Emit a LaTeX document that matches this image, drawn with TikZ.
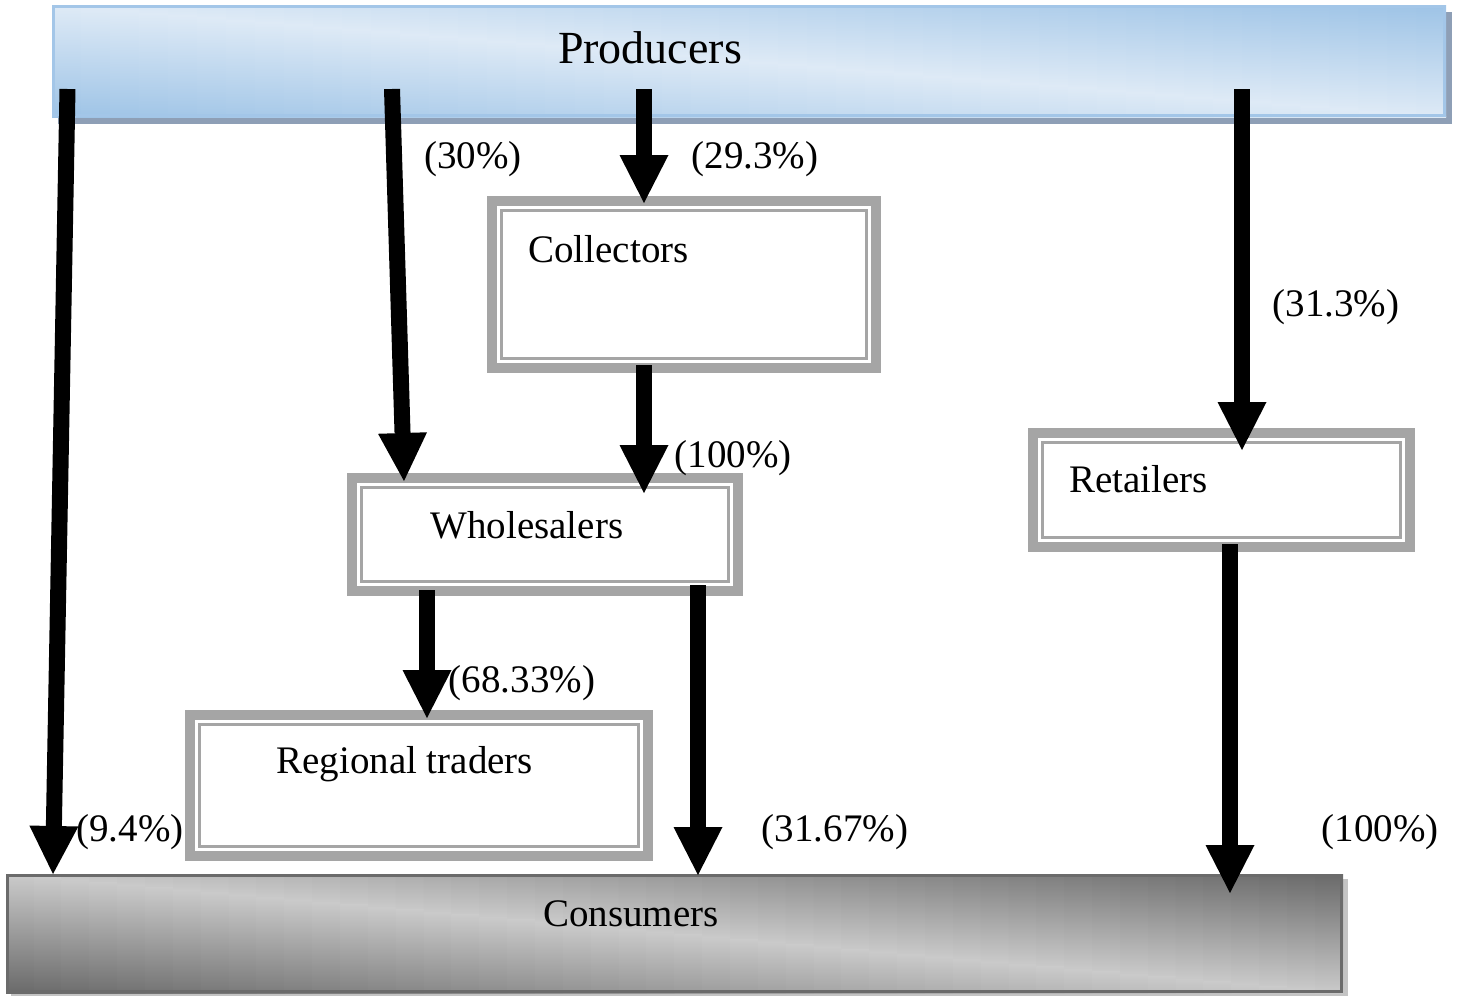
\documentclass[tikz,border=0pt]{standalone}
\usepackage{fontspec}
\setmainfont{Liberation Serif}
\usetikzlibrary{arrows.meta}
\definecolor{boxgray}{HTML}{A5A5A5}
\definecolor{blueL}{HTML}{DEEAF6}
\definecolor{blueD}{HTML}{9DC3E6}
\definecolor{blueEdge}{HTML}{A3C6E8}
\definecolor{blueShadow}{HTML}{8E9FB6}
\definecolor{grayL}{HTML}{CACACA}
\definecolor{grayD}{HTML}{696969}
\definecolor{grayEdge}{HTML}{6B6B6B}
\definecolor{grayShadow}{HTML}{C4C4C4}
\newcommand\innerframe[1]{\draw[boxgray,line width=1.5pt] ([shift={(9.5,9.5)}]#1.north west) rectangle ([shift={(-9.5,-9.5)}]#1.south east);}
% diagonal gradient by strips: #1 x0, #2 width, #3 y0, #4 height, #5 light, #6 dark
\newcommand\diagshade[6]{%
  \pgfmathsetmacro\sw{#2/48}%
  \foreach \i in {0,...,47} {%
    \pgfmathsetmacro\xa{#1+\i*\sw}%
    \pgfmathsetmacro\xb{\xa+\sw+1.5}%
    \pgfmathsetmacro\uu{(\i+0.5)/48}%
    \pgfmathsetmacro\ym{#3+\uu*#4}%
    \pgfmathsetmacro\yn{\ym+0.5}%
    \pgfmathsetmacro\yb{#3+#4}%
    \pgfmathsetmacro\pa{\uu*100}%
    \pgfmathsetmacro\pb{(1-\uu)*100}%
    \shade[top color=#6!\pa!#5, bottom color=#5] (\xa,#3) rectangle (\xb,\yn);%
    \shade[top color=#5, bottom color=#6!\pb!#5] (\xa,\ym) rectangle (\xb,\yb);%
  }%
}
\begin{document}
\begin{tikzpicture}[x=0.5pt,y=-0.5pt,
  lab/.style={font=\fontsize{19.5}{23}\selectfont, inner sep=0pt, anchor=base},
  labw/.style={font=\fontsize{19.5}{23}\selectfont, inner sep=0pt, anchor=base west},
  dbox/.style={draw=boxgray, line width=5pt, fill=white, inner sep=0pt, outer sep=0pt, rectangle},
  bar/.style={inner sep=0pt, outer sep=0pt, rectangle},
  arr/.style={line width=8pt, -{Triangle[width=24.5pt,length=24pt,line width=0pt]}}]
\useasboundingbox (0,0) rectangle (1458,996);

% Producers bar
\node[bar, minimum width=697pt, minimum height=56pt] (prod) at (749,61) {};
\fill[blueShadow] ([shift={(6,7)}]prod.north west) rectangle ([shift={(6,7)}]prod.south east);
\begin{scope}
\clip (prod.north west) rectangle (prod.south east);
\diagshade{52}{1394}{5}{112}{blueL}{blueD}
\end{scope}
\draw[blueEdge, line width=1.5pt] ([shift={(1.5,1.5)}]prod.north west) rectangle ([shift={(-1.5,-1.5)}]prod.south east);
\node[lab, font=\fontsize{23}{27}\selectfont] (prodtxt) at (650,63) {Producers};

% Consumers bar
\node[bar, minimum width=668.5pt, minimum height=59.5pt] (cons) at (674.5,933.5) {};
\fill[grayShadow] ([shift={(5,5)}]cons.north west) rectangle ([shift={(5,5)}]cons.south east);
\begin{scope}
\clip (cons.north west) rectangle (cons.south east);
\diagshade{6}{1337}{874}{119}{grayL}{grayD}
\end{scope}
\draw[grayEdge, line width=1.5pt] ([shift={(1.5,1.5)}]cons.north west) rectangle ([shift={(-1.5,-1.5)}]cons.south east);
\node[lab] (constxt) at (631,926) {Consumers};

% Double boxes
\node[dbox, minimum width=192pt, minimum height=83.5pt] (col) at (684,284.5) {};
\innerframe{col}
\node[labw] (coltxt) at (528,262) {Collectors};

\node[dbox, minimum width=193pt, minimum height=56.5pt] (whl) at (545,534.5) {};
\innerframe{whl}
\node[labw] (whltxt) at (430,538) {Wholesalers};

\node[dbox, minimum width=229pt, minimum height=70.5pt] (reg) at (419,785.5) {};
\innerframe{reg}
\node[labw] (regtxt) at (276,773) {Regional traders};

\node[dbox, minimum width=188.5pt, minimum height=57pt] (ret) at (1221.5,490) {};
\innerframe{ret}
\node[labw] (rettxt) at (1069,492) {Retailers};

% Arrow end points
\coordinate (p1) at (67.5,89);   \coordinate (c1) at (53,874);
\coordinate (p2) at (392,89);    \coordinate (w2) at (404,481);
\coordinate (p3) at (644,89);    \coordinate (k3) at (644,203);
\coordinate (k4) at (644,365);   \coordinate (w4) at (644,493);
\coordinate (w5) at (427,590);   \coordinate (r5) at (427,718);
\coordinate (w6) at (698,585);   \coordinate (c6) at (698,875);
\coordinate (p7) at (1242,89);   \coordinate (t7) at (1242,450);
\coordinate (t8) at (1230,544);  \coordinate (c8) at (1230,893);

\draw[arr] (p1) -- (c1);
\draw[arr] (p2) -- (w2);
\draw[arr] (p3) -- (k3);
\draw[arr] (k4) -- (w4);
\draw[arr] (w5) -- (r5);
\draw[arr] (w6) -- (c6);
\draw[arr] (p7) -- (t7);
\draw[arr] (t8) -- (c8);

% Percent labels
\node[lab] (l30) at (473,168) {(30\%)};
\node[lab] (l293) at (755,168) {(29.3\%)};
\node[lab] (l313) at (1336,316) {(31.3\%)};
\node[lab] (l100a) at (733,467) {(100\%)};
\node[lab] (l6833) at (522,692) {(68.33\%)};
\node[lab] (l94) at (130,841) {(9.4\%)};
\node[lab] (l3167) at (835,841) {(31.67\%)};
\node[lab] (l100b) at (1380,841) {(100\%)};
\end{tikzpicture}
\end{document}
